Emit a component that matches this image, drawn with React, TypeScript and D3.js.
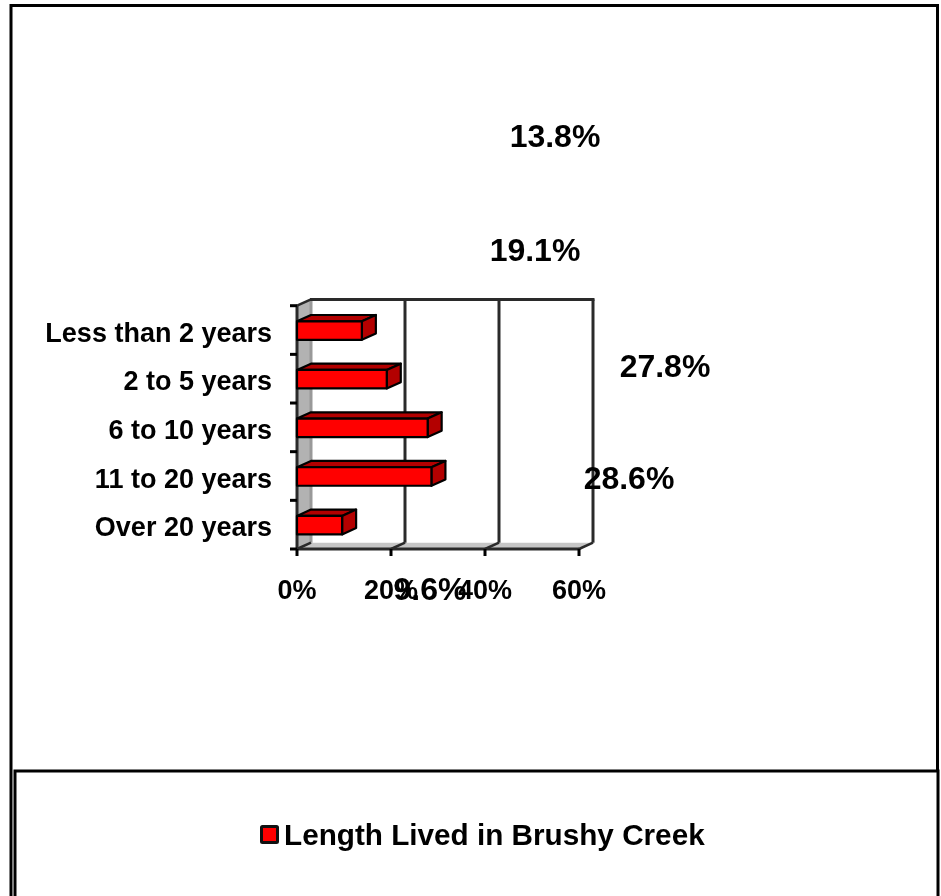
import React from "react";
import * as d3 from "d3";

const categories = ["Less than 2 years", "2 to 5 years", "6 to 10 years", "11 to 20 years", "Over 20 years"];
const values = [13.8, 19.1, 27.8, 28.6, 9.6];
const xTicks = [0, 20, 40, 60];
const labelSpots = [
  { x: 555, y: 138.5 },
  { x: 535, y: 252.5 },
  { x: 665, y: 368.5 },
  { x: 629, y: 480.5 },
  { x: 430, y: 592 },
];
const legendLabel = "Length Lived in Brushy Creek";

const FONT = "'Liberation Sans', Arial, sans-serif";
const INK = "#2a2a2a";
const DX = 14;
const DY = 6.3;

export default function App() {
  const x = d3.scaleLinear().domain([0, 60]).range([297, 579]);
  const y = d3.scaleBand().domain(categories).range([305.7, 549]);
  const top = 305.7;
  const bottom = 549;
  const bands = y.bandwidth();
  const barH = 18.5;
  return (
    <svg width={941} height={896} style={{ position: "absolute", left: 0, top: 0, background: "#fff", filter: "blur(0.45px)" }} fontFamily={FONT}>
      <rect x={0} y={0} width={941} height={896} fill="#fff" />
      {/* outer frame */}
      <rect x={11} y={5.5} width={926.5} height={900} fill="#fff" stroke="#000" strokeWidth={3} />
      {/* side wall and floor */}
      <polygon
        points={`${x(0)},${top} ${x(0) + DX},${top - DY} ${x(0) + DX},${bottom - DY} ${x(0)},${bottom}`}
        fill="#b2b2b2"
      />
      <polygon
        points={`${x(0)},${bottom} ${x(0) + DX},${bottom - DY} ${x(60) + DX},${bottom - DY} ${x(60)},${bottom}`}
        fill="#c6c6c6"
      />
      {/* back gridlines */}
      {xTicks.map((t) => (
        <line key={t} x1={x(t) + DX} x2={x(t) + DX} y1={top - DY} y2={bottom - DY} stroke={t === 0 ? "#999" : INK} strokeWidth={3} />
      ))}
      <line x1={x(0) + DX - 1} x2={x(60) + DX + 1.5} y1={top - DY} y2={top - DY} stroke={INK} strokeWidth={3} />
      {xTicks.slice(1).map((t) => (
        <line key={t} x1={x(t)} x2={x(t) + DX} y1={bottom} y2={bottom - DY} stroke={INK} strokeWidth={2.5} />
      ))}
      <line x1={x(0)} x2={x(0) + DX} y1={top} y2={top - DY} stroke={INK} strokeWidth={2.5} />
      <line x1={x(0)} x2={x(0) + DX} y1={bottom} y2={bottom - DY} stroke={INK} strokeWidth={2.5} />
      {/* front axes */}
      <line x1={x(0)} x2={x(0)} y1={top} y2={bottom} stroke={INK} strokeWidth={3} />
      <line x1={x(0)} x2={x(60)} y1={bottom} y2={bottom} stroke={INK} strokeWidth={3} />
      {d3.range(categories.length + 1).map((i) => {
        const yy = top + i * bands;
        return <line key={i} x1={x(0) - 7} x2={x(0)} y1={yy} y2={yy} stroke="#000" strokeWidth={3} />;
      })}
      {xTicks.map((t) => (
        <line key={t} x1={x(t)} x2={x(t)} y1={bottom} y2={bottom + 7} stroke="#000" strokeWidth={3} />
      ))}
      {/* bars */}
      {categories.map((c, i) => {
        const y0 = (y(c) as number) + (bands - barH) / 2 + 0.5;
        const x1 = x(values[i]);
        const x0 = x(0);
        return (
          <g key={c} stroke="#000" strokeWidth={2.2} strokeLinejoin="round">
            <polygon points={`${x0},${y0} ${x0 + DX},${y0 - DY} ${x1 + DX},${y0 - DY} ${x1},${y0}`} fill="#b30000" />
            <polygon points={`${x1},${y0} ${x1 + DX},${y0 - DY} ${x1 + DX},${y0 + barH - DY} ${x1},${y0 + barH}`} fill="#b30000" />
            <rect x={x0} y={y0} width={x1 - x0} height={barH} fill="#ff0000" />
          </g>
        );
      })}
      {/* category labels */}
      {categories.map((c) => (
        <text key={c} x={272} y={(y(c) as number) + bands / 2 + 4.5} textAnchor="end" fontSize={27} fontWeight="bold" dominantBaseline="middle" fill="#000">
          {c}
        </text>
      ))}
      {xTicks.map((t) => (
        <text key={t} x={x(t)} y={592} textAnchor="middle" fontSize={27} fontWeight="bold" dominantBaseline="middle" fill="#000">
          {t}%
        </text>
      ))}
      {/* data labels */}
      {values.map((v, i) => (
        <text key={i} x={labelSpots[i].x} y={labelSpots[i].y} textAnchor="middle" fontSize={32} fontWeight="bold" dominantBaseline="middle" fill="#000">
          {v.toFixed(1)}%
        </text>
      ))}
      {/* legend */}
      <rect x={15} y={771} width={923} height={130} fill="#fff" stroke="#000" strokeWidth={3} />
      <rect x={261.5} y={826.5} width={16} height={16} fill="#ff0000" stroke="#111" strokeWidth={3} rx={1} />
      <text x={284} y={837} fontSize={29.7} fontWeight="bold" dominantBaseline="middle" fill="#000">
        {legendLabel}
      </text>
    </svg>
  );
}
